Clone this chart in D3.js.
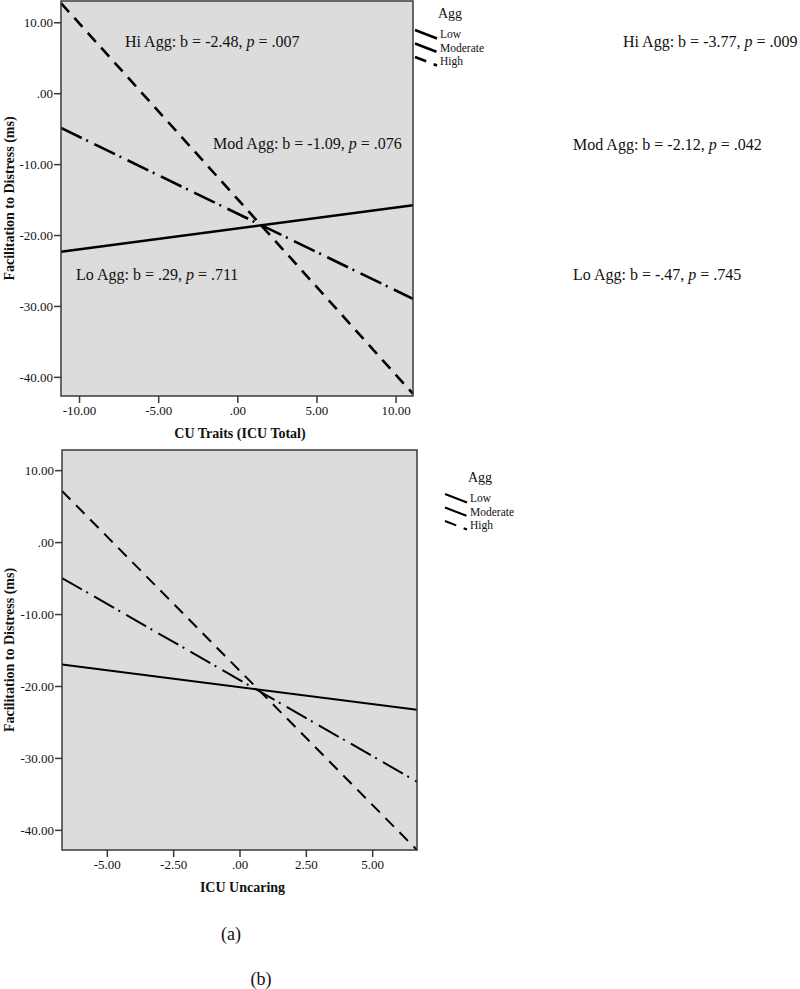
<!DOCTYPE html>
<html>
<head>
<meta charset="utf-8">
<script src="https://cdn.jsdelivr.net/npm/d3@7"></script>
<style>
  body { margin: 0; background: #fff; }
  svg { display: block; }
  text { font-family: "Liberation Serif", "Times New Roman", serif; fill: #111; }
</style>
</head>
<body>
<div class="chart"></div>
<script>
// levels of the moderator
var aggLevels = ["Low", "Moderate", "High"];

// panel (a) : CU Traits (ICU Total)
var totalXRange = [-11.14, 11.1];
var totalYRange = [-42.7, 13.0];
var totalXTicks = [-10, -5, 0, 5, 10];
var totalYTicks = [10, 0, -10, -20, -30, -40];
// predicted values at the two ends of the x range
var totalLo = [-22.35, -15.8];
var totalMod = [-4.9, -29.0];
var totalHi = [12.7, -42.4];
var totalNotes = [
  ["Hi Agg: b = -2.48, ", ".007"],
  ["Mod Agg: b = -1.09, ", ".076"],
  ["Lo Agg: b = .29, ", ".711"],
];

// panel (b) : ICU Uncaring
var uncaringXRange = [-6.69, 6.69];
var uncaringYRange = [-42.8, 12.8];
var uncaringXTicks = [-5, -2.5, 0, 2.5, 5];
var uncaringYTicks = [10, 0, -10, -20, -30, -40];
var uncaringLo = [-17.0, -23.3];
var uncaringMod = [-5.0, -33.3];
var uncaringHi = [7.1, -42.8];
var uncaringNotes = [
  ["Hi Agg: b = -3.77, ", ".009"],
  ["Mod Agg: b = -2.12, ", ".042"],
  ["Lo Agg: b = -.47, ", ".745"],
];

var yTitle = "Facilitation to Distress (ms)";
var captions = ["(a)", "(b)"];

// line styles per level
var dashes = { Low: null, Moderate: "23,5,2,7", High: "12,8" };

var svg = d3.select(".chart").append("svg").attr("width", 800).attr("height", 989);

// formats .00 / -10.00 like SPSS (plain hyphen)
var fmt2 = d3.formatLocale({ decimal: ".", thousands: ",", grouping: [3], currency: ["", ""], minus: "-" }).format(".2f");
var fmt = function (v) {
  return fmt2(v).replace(/^(-?)0\./, "$1.");
};

const drawPanel = (p) => {
  var g = svg.append("g");
  var x = d3.scaleLinear().domain(p.xRange).range([p.left, p.right]);
  var y = d3.scaleLinear().domain(p.yRange).range([p.bottom, p.top]);

  //plot background
  g.append("rect")
    .attr("x", p.left)
    .attr("y", p.top)
    .attr("width", p.right - p.left)
    .attr("height", p.bottom - p.top)
    .attr("fill", "#dcdcdc");

  //regression lines
  var series = [
    { level: "Low", v: p.lo },
    { level: "Moderate", v: p.mod },
    { level: "High", v: p.hi },
  ];
  var line = d3.line().x((d) => x(d.x)).y((d) => y(d.y));
  g.selectAll("path.reg")
    .data(series)
    .join("path")
    .attr("class", "reg")
    .attr("d", (s) => line([{ x: p.xRange[0], y: s.v[0] }, { x: p.xRange[1], y: s.v[1] }]))
    .attr("fill", "none")
    .attr("stroke", "#000")
    .attr("stroke-width", p.lw)
    .attr("stroke-dasharray", (s) => dashes[s.level]);

  //frame
  g.append("rect")
    .attr("x", p.left)
    .attr("y", p.top)
    .attr("width", p.right - p.left)
    .attr("height", p.bottom - p.top)
    .attr("fill", "none")
    .attr("stroke", "#3a3a3a")
    .attr("stroke-width", 1.5);

  //axes
  var yAxis = g.append("g")
    .attr("transform", "translate(" + p.left + ",0)")
    .call(d3.axisLeft(y).tickValues(p.yTicks).tickFormat(fmt).tickSizeInner(7).tickSizeOuter(0).tickPadding(1));
  var xAxis = g.append("g")
    .attr("transform", "translate(0," + p.bottom + ")")
    .call(d3.axisBottom(x).tickValues(p.xTicks).tickFormat(fmt).tickSizeInner(7).tickSizeOuter(0).tickPadding(3));
  [yAxis, xAxis].forEach((a) => {
    a.select(".domain").remove();
    a.selectAll(".tick line").attr("stroke", "#3a3a3a").attr("stroke-width", 1.5);
    a.selectAll(".tick text")
      .attr("font-family", "Liberation Serif, Times New Roman, serif")
      .attr("font-size", 13)
      .attr("fill", "#222");
  });

  //axis titles
  g.append("text")
    .attr("x", (p.left + p.right) / 2 + 3)
    .attr("y", p.xTitleY)
    .attr("text-anchor", "middle")
    .attr("font-size", 14)
    .attr("font-weight", "bold")
    .text(p.xTitle);
  g.append("text")
    .attr("transform", "translate(14," + (p.top + p.bottom) / 2 + ") rotate(-90)")
    .attr("text-anchor", "middle")
    .attr("font-size", 14)
    .attr("font-weight", "bold")
    .text(yTitle);

  //legend
  var lg = g.append("g");
  lg.append("text")
    .attr("x", p.legX + 23)
    .attr("y", p.legY)
    .attr("font-size", 14)
    .text("Agg");
  aggLevels.forEach((lev, i) => {
    var y0 = p.legY + 12 + i * 13.5;
    lg.append("line")
      .attr("x1", p.legX)
      .attr("y1", y0)
      .attr("x2", p.legX + 22)
      .attr("y2", y0 + 8.5)
      .attr("stroke", "#000")
      .attr("stroke-width", p.lw)
      .attr("stroke-dasharray", dashes[lev]);
    lg.append("text")
      .attr("x", p.legX + 25)
      .attr("y", y0 + 8)
      .attr("font-size", 11.5)
      .text(lev);
  });
};

//annotations with italic p
const note = (pos, n) => {
  var t = svg.append("text")
    .attr("x", pos[0])
    .attr("y", pos[1])
    .attr("font-size", 16);
  t.append("tspan").text(n[0]);
  t.append("tspan").attr("font-style", "italic").text("p");
  t.append("tspan").text(" = " + n[1]);
};

drawPanel({
  left: 61, right: 413, top: 1, bottom: 396,
  xRange: totalXRange, yRange: totalYRange,
  xTicks: totalXTicks, yTicks: totalYTicks,
  lo: totalLo, mod: totalMod, hi: totalHi,
  lw: 2.6, xTitle: "CU Traits (ICU Total)", xTitleY: 438,
  legX: 415, legY: 18,
});

drawPanel({
  left: 62, right: 417, top: 450, bottom: 850,
  xRange: uncaringXRange, yRange: uncaringYRange,
  xTicks: uncaringXTicks, yTicks: uncaringYTicks,
  lo: uncaringLo, mod: uncaringMod, hi: uncaringHi,
  lw: 2, xTitle: "ICU Uncaring", xTitleY: 892,
  legX: 445, legY: 482,
});

// notes for panel (a), left; panel (b), right
note([125, 47], totalNotes[0]);
note([213, 149], totalNotes[1]);
note([76, 280], totalNotes[2]);
note([623, 47], uncaringNotes[0]);
note([573, 150], uncaringNotes[1]);
note([573, 280], uncaringNotes[2]);

//captions
svg.append("text").attr("x", 231).attr("y", 940).attr("text-anchor", "middle").attr("font-size", 18).text(captions[0]);
svg.append("text").attr("x", 261).attr("y", 985).attr("text-anchor", "middle").attr("font-size", 18).text(captions[1]);
</script>
</body>
</html>
